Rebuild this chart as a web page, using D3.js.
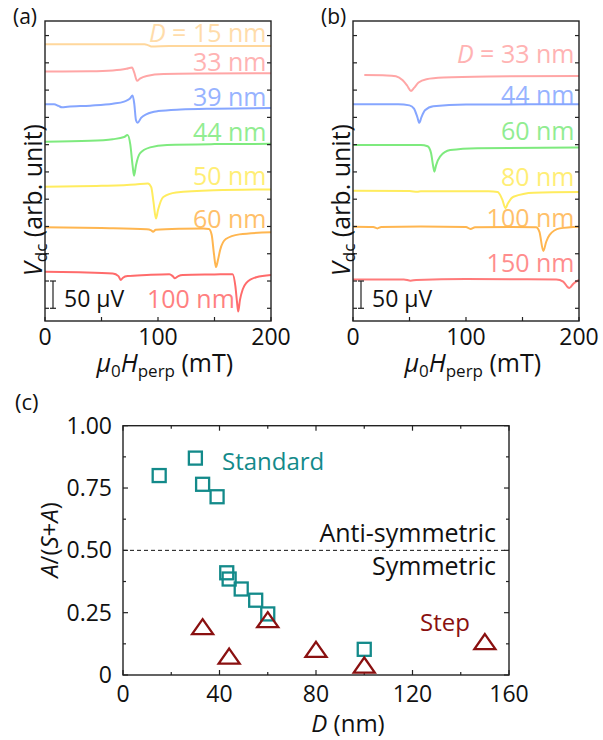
<!DOCTYPE html>
<head>
<meta charset="utf-8">
<title>Vdc spectra and A/(S+A)</title>
<style>
body { margin: 0; background: #fff; }
text { font-family: "Open Sans", "Noto Sans", sans-serif; fill: #111; }
.frame { fill: none; stroke: #222; stroke-width: 1.4; }
.tick { stroke: #222; stroke-width: 1.2; }
.curve { fill: none; stroke-width: 2; }
</style>
</head>
<body>
<script src="https://d3js.org/d3.v7.min.js"></script>
<script>

// ---- panel (a): Vdc (µV) vs mu0 H_perp (mT), standard samples ----
var labelsA = ["D = 15 nm", "33 nm", "39 nm", "44 nm", "50 nm", "60 nm", "100 nm"];
var colorsA = ["#ffd79c", "#ffa6a6", "#86a6ff", "#7eea7e", "#ffec5e", "#ffb650", "#ff6b6b"];
var curve15 = [[0,484],[60,484],[88,484],[91,482.5],[94,480],[110,481],[200,481]];
var curve33 = [[0,434],[40,434.5],[60,436],[72,439],[77,441.5],[79,432],[81.5,417],[84,421],[90,426],[105,429.5],[140,430.5],[200,431]];
var curve39 = [[0,374],[8,374],[12,371],[15,368.5],[20,369.5],[40,371.5],[60,375],[70,379],[75,384],[77.5,390],[79,375],[80.5,345],[82,340],[85,349],[90,356],[100,361.5],[120,364.5],[150,366],[200,367]];
var curve44 = [[0,305.5],[40,307],[60,310],[70,314],[73,317.5],[75.5,300],[77.5,262],[78.8,243],[80.5,262],[84,284],[93,295],[108,299.5],[150,301],[200,301.5]];
var curve50 = [[0,223],[50,224.5],[80,227],[91,229],[94,222],[96,195],[98.2,164.5],[100,180],[104.7,204],[116,212.5],[150,216.5],[200,218]];
var curve60 = [[0,148.5],[50,147],[90,145],[94,143],[95.6,140.5],[98,144],[120,146],[140,146.5],[145,145.5],[147.5,135],[149.5,100],[151.3,75.5],[153,88],[155,107],[160,127],[172,135.5],[200,139.5]];
var curve100 = [[0,67],[30,66],[60,64],[65,59],[67,52],[69,56],[73,59],[90,61],[110,62.5],[113,59],[115,55],[118,59],[122,61],[150,62],[166,62.5],[168.5,40],[170,10],[171,-6],[172.5,15],[175,35],[178,46],[187,57],[200,61]];
var curvesA = [curve15, curve33, curve39, curve44, curve50, curve60, curve100];

// ---- panel (b): step samples ----
var labelsB = ["D = 33 nm", "44 nm", "60 nm", "80 nm", "100 nm", "150 nm"];
var colorsB = ["#ffa6a6", "#86a6ff", "#7eea7e", "#ffec5e", "#ffb650", "#ff7a7a"];
var stepCurve33 = [[10,427.5],[30,427],[38,425.5],[44,418],[48,408],[51.3,398.5],[54,404],[58,414],[65,420],[80,423],[120,425],[200,426]];
var stepCurve44 = [[0,374],[40,374],[50,372],[54,366],[57,350],[58.7,340],[60.5,350],[63.7,363],[71,370.5],[100,373.5],[200,374]];
var stepCurve60 = [[0,299.5],[60,299.5],[66,297],[69,285],[71,260],[72,250.5],[73.5,262],[77,278],[86,290],[110,293.5],[200,295]];
var stepCurve80 = [[0,215.5],[50,215],[57,213.5],[60,214.5],[120,214.5],[128,213],[132,200],[135,183.5],[137,192],[142,204.5],[160,212],[200,213]];
var stepCurve100 = [[0,149.5],[18,149],[21.5,146.5],[25,149],[60,150],[100,149],[104,145.5],[108,148.5],[140,149],[162,148.5],[165,140],[168.4,105],[171,122],[174,134.5],[183,146.5],[200,149.5]];
var stepCurve150 = [[0,53],[45,53],[51,50.5],[56,52],[100,53.5],[180,53],[186,49],[191.4,37],[195,45],[200,52]];
var curvesB = [stepCurve33, stepCurve44, stepCurve60, stepCurve80, stepCurve100, stepCurve150];

// ---- panel (c): A/(S+A) vs D ----
var standardD = [15, 30, 33, 39, 43, 44, 49, 55, 60, 100];
var standardRatio = [0.80, 0.87, 0.765, 0.715, 0.41, 0.385, 0.345, 0.30, 0.245, 0.103];
var stepD = [33, 44, 60, 80, 100, 150];
var stepRatio = [0.194, 0.076, 0.222, 0.103, 0.04, 0.134];

var xTicksField = [0, 100, 200];
var xTicksD = [0, 40, 80, 120, 160];
var yTicksRatio = [0, 0.25, 0.5, 0.75, 1];

var svg = d3.select("body").append("svg")
	.attr("width", 603)
	.attr("height", 740);

function spectraPanel(x0, tag, curves, colors, labels, labelY) {
	var x = d3.scaleLinear().domain([0, 200]).range([x0, x0 + 226]);
	var y = d3.scaleLinear().domain([-23.3, 526.7]).range([321, 21]);
	var g = svg.append("g");

	var line = d3.line()
		.x(function(d) { return x(d[0]); })
		.y(function(d) { return y(d[1]); })
		.curve(d3.curveMonotoneX);

	g.selectAll(".curve")
		.data(curves)
		.enter().append("path")
		.attr("class", "curve")
		.attr("stroke", function(d, i) { return colors[i]; })
		.attr("d", line);

	// labels
	g.selectAll(".lab")
		.data(labels)
		.enter().append("text")
		.attr("class", "lab")
		.attr("text-anchor", "end")
		.attr("x", function(d, i) { return labelY[i][0] == null ? x(196) : x(labelY[i][0]); })
		.attr("y", function(d, i) { return y(labelY[i][1]); })
		.style("font-size", "25px")
		.style("fill", function(d, i) { return colors[i]; })
		.style("opacity", 0.85)
		.each(function(d) {
			var t = d3.select(this);
			if (d.indexOf("D = ") == 0) {
				t.append("tspan").style("font-style", "italic").text("D");
				t.append("tspan").text(d.slice(1));
			} else {
				t.text(d);
			}
		});

	// frame + ticks
	g.append("rect").attr("class", "frame")
		.attr("x", x(0)).attr("y", 21).attr("width", 226).attr("height", 300);
	d3.range(0, 501, 50).forEach(function(v) {
		g.append("line").attr("class", "tick")
			.attr("x1", x(0)).attr("x2", x(0) + 4).attr("y1", y(v)).attr("y2", y(v));
		g.append("line").attr("class", "tick")
			.attr("x1", x(200)).attr("x2", x(200) - 4).attr("y1", y(v)).attr("y2", y(v));
	});
	d3.range(0, 201, 50).forEach(function(v) {
		g.append("line").attr("class", "tick")
			.attr("x1", x(v)).attr("x2", x(v)).attr("y1", 321).attr("y2", 317);
	});
	g.selectAll(".xt")
		.data(xTicksField)
		.enter().append("text")
		.attr("text-anchor", "middle")
		.attr("x", function(d) { return x(d); })
		.attr("y", 345)
		.style("font-size", "23px")
		.text(function(d) { return d; });

	// scale bar 50 µV
	var bx = x0 + 8;
	g.append("line").attr("class", "tick").attr("x1", bx).attr("x2", bx).attr("y1", y(0)).attr("y2", y(50));
	g.append("line").attr("class", "tick").attr("x1", bx - 3).attr("x2", bx + 3).attr("y1", y(0)).attr("y2", y(0));
	g.append("line").attr("class", "tick").attr("x1", bx - 3).attr("x2", bx + 3).attr("y1", y(50)).attr("y2", y(50));
	g.append("text").attr("x", bx + 11).attr("y", y(2)).style("font-size", "23px").text("50 \u03bcV");

	// axis titles
	var xt = g.append("text").attr("text-anchor", "middle")
		.attr("x", x(106)).attr("y", 372).style("font-size", "25px");
	xt.append("tspan").style("font-style", "italic").text("\u03bc");
	xt.append("tspan").attr("dy", 5).style("font-size", "17px").text("0");
	xt.append("tspan").attr("dy", -5).style("font-style", "italic").text("H");
	xt.append("tspan").attr("dy", 5).style("font-size", "17px").text("perp");
	xt.append("tspan").attr("dy", -5).text(" (mT)");

	var yt = g.append("text").attr("text-anchor", "middle")
		.attr("transform", "translate(" + (x0 - 3) + ",200) rotate(-90)")
		.style("font-size", "25px");
	yt.append("tspan").style("font-style", "italic").text("V");
	yt.append("tspan").attr("dy", 5).style("font-size", "17px").text("dc");
	yt.append("tspan").attr("dy", -5).text(" (arb. unit)");

	svg.append("text").attr("x", x0 - 32).attr("y", 24).style("font-size", "21px").text(tag);
}

spectraPanel(45, "(a)", curvesA, colorsA, labelsA,
	[[null,488],[null,435],[null,371],[null,307],[null,226],[null,147],[168,0]]);
spectraPanel(353, "(b)", curvesB, colorsB, labelsB,
	[[null,449],[null,374.5],[null,308.5],[null,224.7],[null,149.6],[null,67]]);

// ---- panel (c) ----
var xc = d3.scaleLinear().domain([0, 160]).range([123, 509]);
var yc = d3.scaleLinear().domain([0, 1]).range([675, 425.7]);
var gc = svg.append("g");

gc.append("line")
	.attr("x1", xc(0)).attr("x2", xc(160)).attr("y1", yc(0.5)).attr("y2", yc(0.5))
	.attr("stroke", "#111").attr("stroke-width", 1).attr("stroke-dasharray", "4,3");

gc.append("rect").attr("class", "frame")
	.attr("x", xc(0)).attr("y", yc(1)).attr("width", xc(160) - xc(0)).attr("height", yc(0) - yc(1));

d3.range(0, 161, 20).forEach(function(v, i) {
	var len = i % 2 == 0 ? 5 : 3;
	gc.append("line").attr("class", "tick").attr("x1", xc(v)).attr("x2", xc(v)).attr("y1", yc(0)).attr("y2", yc(0) - len);
	gc.append("line").attr("class", "tick").attr("x1", xc(v)).attr("x2", xc(v)).attr("y1", yc(1)).attr("y2", yc(1) + len);
});
d3.range(0, 1.001, 0.125).forEach(function(v, i) {
	var len = i % 2 == 0 ? 5 : 3;
	gc.append("line").attr("class", "tick").attr("x1", xc(0)).attr("x2", xc(0) + len).attr("y1", yc(v)).attr("y2", yc(v));
	gc.append("line").attr("class", "tick").attr("x1", xc(160)).attr("x2", xc(160) - len).attr("y1", yc(v)).attr("y2", yc(v));
});

gc.selectAll(".xtc").data(xTicksD).enter().append("text")
	.attr("text-anchor", "middle")
	.attr("x", function(d) { return xc(d); })
	.attr("y", 702)
	.style("font-size", "23px")
	.text(function(d) { return d; });
gc.selectAll(".ytc").data(yTicksRatio).enter().append("text")
	.attr("text-anchor", "end")
	.attr("x", 112)
	.attr("y", function(d) { return yc(d) + 8; })
	.style("font-size", "23px")
	.text(function(d) { return d == 0 ? "0" : d.toFixed(2); });

// markers
gc.selectAll(".sq").data(standardD).enter().append("rect")
	.attr("x", function(d) { return xc(d) - 6.5; })
	.attr("y", function(d, i) { return yc(standardRatio[i]) - 6.5; })
	.attr("width", 13).attr("height", 13)
	.attr("fill", "none").attr("stroke", "#138a8a").attr("stroke-width", 2.3);

gc.selectAll(".tri").data(stepD).enter().append("path")
	.attr("d", "M0,-7.5L10.5,7.5L-10.5,7.5Z")
	.attr("transform", function(d, i) { return "translate(" + xc(d) + "," + yc(stepRatio[i]) + ")"; })
	.attr("fill", "none").attr("stroke", "#8a1010").attr("stroke-width", 2.3);

gc.append("text").attr("x", 222).attr("y", 470).style("font-size", "24px").style("fill", "#138a8a").text("Standard");
gc.append("text").attr("x", 420).attr("y", 631).style("font-size", "24px").style("fill", "#8a1010").text("Step");
gc.append("text").attr("x", 496).attr("y", 542).attr("text-anchor", "end").style("font-size", "25px").text("Anti-symmetric");
gc.append("text").attr("x", 496).attr("y", 575).attr("text-anchor", "end").style("font-size", "25px").text("Symmetric");

var xtc = gc.append("text").attr("text-anchor", "middle").attr("x", 348).attr("y", 732).style("font-size", "24px");
xtc.append("tspan").style("font-style", "italic").text("D");
xtc.append("tspan").text(" (nm)");

var ytc = gc.append("text").attr("text-anchor", "middle")
	.attr("transform", "translate(58,540) rotate(-90)")
	.style("font-size", "24px");
ytc.append("tspan").style("font-style", "italic").text("A");
ytc.append("tspan").text("/(");
ytc.append("tspan").style("font-style", "italic").text("S");
ytc.append("tspan").text("+");
ytc.append("tspan").style("font-style", "italic").text("A");
ytc.append("tspan").text(")");

svg.append("text").attr("x", 15).attr("y", 410).style("font-size", "22px").text("(c)");

</script>
</body>
